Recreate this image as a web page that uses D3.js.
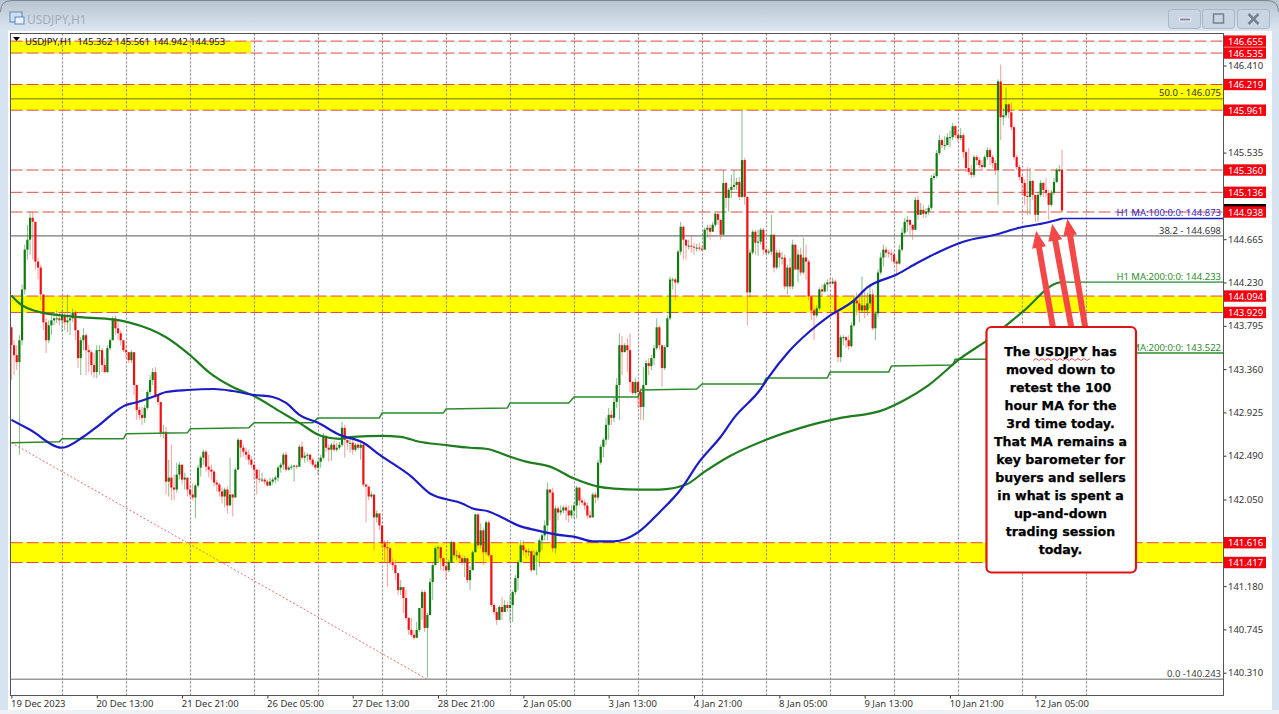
<!DOCTYPE html>
<html><head><meta charset="utf-8">
<script src="https://cdnjs.cloudflare.com/ajax/libs/d3/7.8.5/d3.min.js"></script>
<style>html,body{margin:0;padding:0;background:#fff;overflow:hidden}svg{display:block}text{font-family:"Noto Sans",sans-serif}</style>
</head><body><svg id="c" width="1279" height="714"></svg>
<script>
const opens=[143.78,143.60,143.50,143.43,143.65,144.16,144.56,144.66,144.88,144.84,144.44,144.38,144.11,143.83,143.65,143.80,143.85,143.87,143.87,143.85,143.90,143.83,143.85,143.87,143.93,143.75,143.47,143.65,143.70,143.55,143.53,143.40,143.33,143.55,143.55,143.40,143.33,143.57,143.65,143.87,143.77,143.72,143.65,143.55,143.53,143.45,143.53,143.20,142.95,142.90,142.87,142.97,143.13,143.25,143.33,143.10,143.03,142.72,142.73,142.23,142.27,142.17,142.15,142.30,142.40,142.25,142.27,142.15,142.10,142.07,142.19,142.37,142.47,142.53,142.38,142.35,142.33,142.22,142.20,142.13,142.08,142.15,141.99,142.10,142.07,142.35,142.65,142.57,142.53,142.50,142.45,142.40,142.35,142.26,142.25,142.25,142.23,142.19,142.23,142.25,142.27,142.37,142.40,142.50,142.35,142.37,142.38,142.39,142.38,142.58,142.47,142.49,142.50,142.45,142.40,142.37,142.43,142.47,142.69,142.57,142.55,142.60,142.55,142.57,142.60,142.77,142.65,142.62,142.62,142.55,142.60,142.57,142.60,142.20,142.18,142.08,142.10,141.87,141.91,141.79,141.61,141.57,141.56,141.42,141.39,141.31,141.14,141.17,141.06,140.86,140.74,140.69,140.66,140.74,140.96,141.12,140.76,140.89,141.22,141.39,141.56,141.57,141.46,141.38,141.34,141.42,141.62,141.49,141.49,141.46,141.42,141.46,141.24,141.34,141.52,141.90,141.59,141.74,141.52,141.82,141.49,140.99,140.92,140.84,140.97,140.92,140.99,140.96,140.99,141.12,141.26,141.42,141.59,141.54,141.52,141.53,141.34,141.49,141.52,141.64,141.69,141.79,142.15,142.12,141.56,141.96,141.92,141.94,141.97,141.94,141.89,141.94,141.99,142.17,142.04,142.02,141.99,141.89,141.87,142.10,142.07,142.42,142.58,142.65,142.80,142.90,142.87,143.03,143.20,143.60,143.53,143.60,143.55,143.23,143.12,143.23,143.13,142.98,143.20,143.42,143.39,143.47,143.57,143.78,143.60,143.37,143.58,143.87,144.26,144.26,144.23,144.54,144.79,144.66,144.60,144.60,144.59,144.58,144.58,144.57,144.56,144.76,144.78,144.74,144.81,144.92,144.86,144.71,145.23,145.08,145.16,145.19,145.21,145.24,145.09,145.46,145.09,144.13,144.53,144.74,144.63,144.64,144.76,144.56,144.53,144.54,144.71,144.38,144.53,144.48,144.48,144.19,144.38,144.19,144.61,144.36,144.51,144.33,144.48,144.44,144.09,143.95,143.90,143.97,144.16,144.14,144.21,144.23,144.22,144.24,143.93,143.48,143.68,143.68,143.65,143.59,143.80,144.05,144.02,143.95,144.00,143.95,144.02,144.11,143.77,143.92,144.33,144.48,144.56,144.53,144.52,144.51,144.44,144.42,144.56,144.73,144.84,144.86,144.81,144.76,145.06,144.91,144.96,144.92,144.94,144.98,145.28,145.30,145.53,145.66,145.61,145.61,145.69,145.69,145.80,145.71,145.68,145.71,145.54,145.38,145.34,145.31,145.49,145.46,145.41,145.39,145.49,145.56,145.49,145.43,145.36,146.25,145.89,145.91,146.02,145.94,145.79,145.49,145.39,145.29,145.23,145.10,145.09,145.25,145.11,144.91,145.11,145.23,145.16,145.13,145.01,145.13,145.24,145.36,145.362];
const highs=[143.78,143.65,143.60,143.70,144.21,144.61,144.81,144.94,144.94,144.80,144.48,144.41,144.11,143.87,143.85,143.90,143.93,143.95,143.93,143.95,143.93,144.11,143.93,143.97,143.95,143.75,143.68,143.77,143.72,143.60,143.55,143.52,143.60,143.60,143.57,143.47,143.60,143.67,143.89,143.90,143.85,143.75,143.63,143.60,143.53,143.55,143.45,143.20,142.98,142.98,143.00,143.15,143.30,143.37,143.38,143.10,143.02,142.80,142.78,142.45,142.60,142.30,142.42,142.43,142.37,142.32,142.25,142.20,142.21,142.21,142.40,142.49,142.55,142.55,142.50,142.40,142.35,142.25,142.22,142.17,142.17,142.18,142.47,142.11,142.37,142.67,142.62,142.60,142.57,142.55,142.49,142.40,142.35,142.35,142.32,142.27,142.25,142.27,142.27,142.29,142.39,142.42,142.52,142.53,142.39,142.40,142.40,142.40,142.60,142.63,142.53,142.52,142.51,142.47,142.43,142.45,142.50,142.72,142.69,142.60,142.62,142.64,142.62,142.63,142.83,142.80,142.65,142.67,142.65,142.62,142.62,142.63,142.62,142.20,142.12,142.13,142.07,141.94,141.89,141.71,141.64,141.64,141.57,141.46,141.44,141.31,141.24,141.14,141.14,140.87,140.86,140.74,140.82,140.96,141.14,141.14,140.91,141.26,141.41,141.58,141.59,141.57,141.46,141.40,141.44,141.64,141.63,141.54,141.52,141.49,141.48,141.46,141.38,141.54,141.91,141.91,141.81,141.77,141.84,141.84,141.49,141.01,140.96,140.99,141.07,141.04,141.02,141.09,141.14,141.29,141.44,141.64,141.64,141.56,141.56,141.54,141.54,141.54,141.66,141.71,141.84,142.22,142.15,142.17,141.99,141.98,141.99,141.99,142.00,141.99,141.99,142.02,142.19,142.17,142.07,142.05,142.02,141.94,142.12,142.13,142.45,142.60,142.67,142.87,142.97,142.95,143.07,143.27,143.72,143.69,143.62,143.67,143.72,143.24,143.27,143.25,143.17,143.38,143.45,143.47,143.50,143.60,143.87,143.80,143.55,143.60,143.90,144.29,144.28,144.28,144.56,144.84,144.80,144.66,144.66,144.70,144.63,144.62,144.63,144.61,144.78,144.81,144.81,144.84,144.94,144.92,144.86,145.36,145.24,145.18,145.31,145.36,145.28,145.29,145.96,145.48,145.03,144.56,144.76,144.76,144.76,144.78,144.78,144.58,144.56,144.91,144.71,144.56,144.56,144.54,144.51,144.41,144.48,144.66,144.61,144.56,144.58,144.68,144.61,144.46,144.10,144.00,144.00,144.18,144.21,144.23,144.26,144.28,144.28,144.26,143.90,143.70,143.70,143.69,143.70,143.83,144.09,144.13,144.11,144.29,144.16,144.13,144.19,144.16,143.94,144.36,144.53,144.61,144.59,144.56,144.56,144.54,144.46,144.61,144.78,144.88,144.90,144.84,144.81,145.09,145.10,145.03,145.01,144.98,145.01,145.31,145.33,145.56,145.71,145.68,145.70,145.73,145.76,145.83,145.81,145.76,145.78,145.73,145.56,145.58,145.41,145.51,145.51,145.49,145.46,145.51,145.59,145.58,145.51,145.46,146.27,146.42,145.98,146.19,146.03,146.04,145.81,145.51,145.41,145.31,145.26,145.39,145.38,145.26,145.11,145.14,145.26,145.24,145.28,145.16,145.16,145.28,145.38,145.41,145.561];
const lows=[143.25,143.30,143.35,142.50,143.60,144.11,144.46,144.51,144.46,144.36,144.26,144.05,143.75,143.52,143.62,143.70,143.80,143.82,143.80,143.73,143.75,143.73,143.70,143.83,143.65,143.37,143.30,143.55,143.30,143.33,143.30,143.27,143.27,143.30,143.33,143.32,143.32,143.55,143.65,143.70,143.65,143.60,143.53,143.47,143.42,143.42,143.10,142.85,142.85,142.80,142.82,142.95,143.10,143.20,143.07,143.00,142.68,142.67,142.10,142.08,142.04,142.04,142.12,142.25,142.20,142.15,142.08,142.07,142.04,141.86,142.17,142.28,142.40,142.33,142.27,142.25,142.18,142.13,142.08,142.01,141.97,141.91,142.01,141.88,142.07,142.35,142.47,142.48,142.45,142.40,142.37,142.25,142.10,142.22,142.22,142.20,142.18,142.19,142.20,142.21,142.23,142.32,142.35,142.33,142.34,142.35,142.23,142.36,142.38,142.45,142.42,142.43,142.41,142.38,142.35,142.30,142.37,142.45,142.53,142.43,142.44,142.53,142.53,142.55,142.58,142.47,142.55,142.52,142.50,142.53,142.55,142.45,142.18,141.82,142.04,142.06,141.54,141.82,141.74,141.56,141.42,141.17,141.39,141.34,141.24,141.09,141.09,140.91,140.84,140.69,140.67,140.64,140.67,140.72,140.84,140.72,140.26,140.89,141.04,141.39,141.41,141.34,141.33,141.24,141.32,141.42,141.46,141.44,141.42,141.39,141.27,141.21,141.14,141.34,141.52,141.56,141.56,141.39,141.49,141.47,140.97,140.89,140.79,140.84,140.84,140.92,140.92,140.82,140.82,141.09,141.14,141.42,141.49,141.46,141.48,141.32,141.42,141.29,141.37,141.54,141.64,141.64,141.84,141.52,141.51,141.84,141.89,141.91,141.84,141.82,141.86,141.86,141.86,141.99,141.99,141.94,141.86,141.86,141.87,142.01,142.04,142.40,142.47,142.60,142.65,142.80,142.83,142.97,142.85,143.30,143.53,143.33,143.13,143.10,143.10,142.97,142.85,142.85,143.20,143.30,143.35,143.40,143.55,143.55,143.18,143.35,143.58,143.85,144.16,144.05,144.21,144.51,144.46,144.46,144.56,144.53,144.51,144.54,144.55,144.54,144.56,144.68,144.66,144.74,144.79,144.81,144.66,144.71,144.98,144.94,145.08,145.16,145.16,145.06,145.08,145.01,143.80,144.08,144.51,144.51,144.50,144.61,144.51,144.51,144.51,144.51,144.33,144.36,144.38,144.41,144.16,144.11,144.16,144.16,144.41,144.23,144.30,144.31,144.26,144.05,143.85,143.65,143.88,143.95,144.09,144.13,144.14,144.20,144.21,143.90,143.43,143.43,143.60,143.57,143.55,143.58,143.78,143.90,143.83,143.93,143.87,143.90,143.97,143.75,143.65,143.88,144.31,144.39,144.48,144.48,144.44,144.41,144.31,144.41,144.54,144.71,144.74,144.71,144.66,144.76,144.86,144.91,144.88,144.88,144.91,144.96,145.26,145.28,145.51,145.58,145.56,145.61,145.59,145.66,145.68,145.64,145.66,145.48,145.34,145.31,145.28,145.29,145.41,145.38,145.36,145.38,145.46,145.41,145.38,145.31,145.01,145.66,145.81,145.88,145.88,145.76,145.46,145.36,145.26,145.11,145.01,144.91,144.91,145.06,144.84,144.84,145.09,145.09,145.09,144.86,144.99,145.11,145.23,145.34,144.942];
const closes=[143.60,143.50,143.43,143.65,144.16,144.56,144.66,144.88,144.84,144.44,144.38,144.11,143.83,143.65,143.80,143.85,143.87,143.87,143.85,143.90,143.83,143.85,143.87,143.93,143.75,143.47,143.65,143.70,143.55,143.53,143.40,143.33,143.55,143.55,143.40,143.33,143.57,143.65,143.87,143.77,143.72,143.65,143.55,143.53,143.45,143.53,143.20,142.95,142.90,142.87,142.97,143.13,143.25,143.33,143.10,143.03,142.72,142.73,142.23,142.27,142.17,142.15,142.30,142.40,142.25,142.27,142.15,142.10,142.07,142.19,142.37,142.47,142.53,142.38,142.35,142.33,142.22,142.20,142.13,142.08,142.15,141.99,142.10,142.07,142.35,142.65,142.57,142.53,142.50,142.45,142.40,142.35,142.26,142.25,142.25,142.23,142.19,142.23,142.25,142.27,142.37,142.40,142.50,142.35,142.37,142.38,142.39,142.38,142.58,142.47,142.49,142.50,142.45,142.40,142.37,142.43,142.47,142.69,142.57,142.55,142.60,142.55,142.57,142.60,142.77,142.65,142.62,142.62,142.55,142.60,142.57,142.60,142.20,142.18,142.08,142.10,141.87,141.91,141.79,141.61,141.57,141.56,141.42,141.39,141.31,141.14,141.17,141.06,140.86,140.74,140.69,140.66,140.74,140.96,141.12,140.76,140.89,141.22,141.39,141.56,141.57,141.46,141.38,141.34,141.42,141.62,141.49,141.49,141.46,141.42,141.46,141.24,141.34,141.52,141.90,141.59,141.74,141.52,141.82,141.49,140.99,140.92,140.84,140.97,140.92,140.99,140.96,140.99,141.12,141.26,141.42,141.59,141.54,141.52,141.53,141.34,141.49,141.52,141.64,141.69,141.79,142.15,142.12,141.56,141.96,141.92,141.94,141.97,141.94,141.89,141.94,141.99,142.17,142.04,142.02,141.99,141.89,141.87,142.10,142.07,142.42,142.58,142.65,142.80,142.90,142.87,143.03,143.20,143.60,143.53,143.60,143.55,143.23,143.12,143.23,143.13,142.98,143.20,143.42,143.39,143.47,143.57,143.78,143.60,143.37,143.58,143.87,144.26,144.26,144.23,144.54,144.79,144.66,144.60,144.60,144.59,144.58,144.58,144.57,144.56,144.76,144.78,144.74,144.81,144.92,144.86,144.71,145.23,145.08,145.16,145.19,145.21,145.24,145.09,145.46,145.09,144.13,144.53,144.74,144.63,144.64,144.76,144.56,144.53,144.54,144.71,144.38,144.53,144.48,144.48,144.19,144.38,144.19,144.61,144.36,144.51,144.33,144.48,144.44,144.09,143.95,143.90,143.97,144.16,144.14,144.21,144.23,144.22,144.24,143.93,143.48,143.68,143.68,143.65,143.59,143.80,144.05,144.02,143.95,144.00,143.95,144.02,144.11,143.77,143.92,144.33,144.48,144.56,144.53,144.52,144.51,144.44,144.42,144.56,144.73,144.84,144.86,144.81,144.76,145.06,144.91,144.96,144.92,144.94,144.98,145.28,145.30,145.53,145.66,145.61,145.61,145.69,145.69,145.80,145.71,145.68,145.71,145.54,145.38,145.34,145.31,145.49,145.46,145.41,145.39,145.49,145.56,145.49,145.43,145.36,146.25,145.89,145.91,146.02,145.94,145.79,145.49,145.39,145.29,145.23,145.10,145.09,145.25,145.11,144.91,145.11,145.23,145.16,145.13,145.01,145.13,145.24,145.36,145.362,144.953];

const ma100Bars=[0,7,19,27,33,43,46,55,58,66,76,83,91,98,103,108,115,123,132,138,150,157,169,173,179,184,190,197,204,212,218,226,235,243,251,258,266,271,281,284,291,299,306,316,321,332,340,348,357,369,378,388,394];
const ma100=[142.85,142.75,142.57,142.68,142.80,143.00,143.02,143.10,143.13,143.15,143.16,143.14,143.10,143.08,143.02,142.90,142.82,142.70,142.62,142.50,142.28,142.11,142.01,141.96,141.93,141.87,141.79,141.74,141.70,141.67,141.63,141.63,141.72,141.92,142.15,142.43,142.68,142.87,143.16,143.28,143.52,143.73,143.88,144.05,144.18,144.31,144.43,144.54,144.64,144.71,144.78,144.83,144.873];
const ma200Bars=[0,3,11,27,38,44,52,58,67,74,83,91,101,108,116,123,128,139,146,153,162,172,178,187,193,202,211,220,226,236,243,253,260,269,283,296,311,326,335,344,356,366,379,393,394];
const ma200=[144.10,144.02,143.93,143.88,143.86,143.83,143.76,143.68,143.50,143.33,143.18,143.09,142.93,142.82,142.69,142.66,142.68,142.69,142.68,142.63,142.60,142.57,142.56,142.48,142.43,142.38,142.26,142.18,142.16,142.15,142.15,142.20,142.33,142.48,142.65,142.77,142.87,142.94,143.05,143.20,143.47,143.65,143.93,144.23,144.233];
const h4Bars=[0,18,19,42,43,66,67,89,91,113,115,138,139,162,163,186,187,209,211,235,236,257,259,282,283,306,307,329,330,353,354,376,377,454.5];
const h4ma=[142.62,142.63,142.66,142.66,142.71,142.72,142.76,142.77,142.82,142.82,142.87,142.87,142.92,142.92,142.96,142.97,143.02,143.02,143.08,143.08,143.15,143.16,143.21,143.21,143.27,143.27,143.33,143.33,143.39,143.40,143.46,143.46,143.522,143.522];

const priceTicks=[146.410,145.535,144.665,144.230,143.795,143.360,142.925,142.490,142.050,141.180,140.745,140.310];
const timeTickBars=[0,32,64,96,128,160,192,224,256,288,320,352,384];
const timeLabels=["19 Dec 2023","20 Dec 13:00","21 Dec 21:00","26 Dec 05:00","27 Dec 13:00","28 Dec 21:00","2 Jan 05:00","3 Jan 13:00","4 Jan 21:00","8 Jan 05:00","9 Jan 13:00","10 Jan 21:00","12 Jan 05:00"];
const gridBars=[19,43,67,91,115,139,163,187,211,235,259,283,307,331,355,379,403];
const levels=[146.655,146.535,146.219,145.961,145.360,145.136,144.938,144.094,143.929,141.616,141.417];
const bandTops=[146.219,144.094,141.616];
const bandBottoms=[145.961,143.929,141.417];
const noteLines=["The USDJPY has","moved down to","retest the 100","hour MA for the","3rd time today.","That MA remains a","key barometer for","buyers and sellers","in what is spent a","up-and-down","trading session","today."];
const arrowTipBars=[384.3,390.3,396];
const arrowTipPrices=[144.75,144.82,144.87];
const arrowBaseBars=[390.6,397.5,402.7];
const arrowBasePrice=143.78;

const W=1279,H=714,L=10.5,R=1223.5,T=33.5,B=695.5,FS=9.5;
const svg=d3.select("#c");
const x=d3.scaleLinear().domain([0,394]).range([11.4,1062]);
const y=d3.scaleLinear().domain([146.41,140.31]).range([65.5,672.7]);
const lastBar=x.invert(R);

// window chrome
const defs=svg.append("defs");
const g0=defs.append("linearGradient").attr("id","tb").attr("x1",0).attr("x2",0).attr("y1",0).attr("y2",1);
g0.append("stop").attr("offset",0).attr("stop-color","#b7c3d0");
g0.append("stop").attr("offset",1).attr("stop-color","#dbe6f2");
svg.append("rect").attr("width",W).attr("height",H).attr("fill","#d7e3f0");
svg.append("rect").attr("width",W).attr("height",31).attr("fill","url(#tb)");
svg.append("path").attr("d","M0.5,12 Q0.5,0.5 12,0.5 H1267 Q1278.5,0.5 1278.5,12").attr("fill","none").attr("stroke","#7d8791");
svg.append("rect").attr("x",8).attr("y",31).attr("width",1264).attr("height",679).attr("fill","#fff");
svg.append("rect").attr("x",0).attr("y",710).attr("width",W).attr("height",4).attr("fill","#eef1f5");
const ic=svg.append("g");
ic.append("rect").attr("x",10).attr("y",12).attr("width",12).attr("height",10).attr("fill","#cfe0f2").attr("stroke","#5c87b8");
ic.append("rect").attr("x",15).attr("y",17).attr("width",9).attr("height",7).attr("fill","#e8f0fa").attr("stroke","#5c87b8");
svg.append("text").attr("x",27).attr("y",24).attr("font-size",12).attr("fill","#a3adb8").text("USDJPY,H1");
[[1169,"min"],[1203,"max"],[1238,"close"]].forEach(([bx,k])=>{
  svg.append("rect").attr("x",bx-.5).attr("y",9.5).attr("width",32).attr("height",19).attr("rx",3).attr("fill","#c9d5e2").attr("stroke","#a9b6c4");
  const cx=bx+15.5;
  if(k=="min")svg.append("rect").attr("x",cx-5).attr("y",18).attr("width",11).attr("height",3).attr("fill","#7f8b97").attr("stroke","#eef");
  if(k=="max")svg.append("rect").attr("x",cx-5).attr("y",14).attr("width",10).attr("height",9).attr("fill","none").attr("stroke","#76828e").attr("stroke-width",1.5);
  if(k=="close")svg.append("path").attr("d",`M${cx-5},14 L${cx+5},24 M${cx+5},14 L${cx-5},24`).attr("stroke","#76828e").attr("stroke-width",2.5);
});

// bands
const gBands=svg.append("g");
bandTops.forEach((t,i)=>gBands.append("rect").attr("x",L).attr("width",R-L).attr("y",y(t)).attr("height",y(bandBottoms[i])-y(t)).attr("fill","#ffff00"));
gBands.append("rect").attr("x",L).attr("width",251-L).attr("y",y(146.655)).attr("height",y(146.535)-y(146.655)).attr("fill","#ffff00");

// grid
svg.append("g").selectAll("line").data(gridBars).join("line")
  .attr("x1",d=>Math.round(x(d))+.5).attr("x2",d=>Math.round(x(d))+.5).attr("y1",T).attr("y2",B)
  .attr("stroke","#8c8c8c").attr("stroke-width",1.2).attr("stroke-dasharray","2 2");

// red levels
svg.append("g").selectAll("line").data(levels).join("line")
  .attr("x1",L).attr("x2",R).attr("y1",d=>y(d)).attr("y2",d=>y(d))
  .attr("stroke","#e04a44").attr("stroke-width",1).attr("stroke-dasharray","12 4");

// fibo lines
const fibLine=(p,c,w)=>svg.append("line").attr("x1",L).attr("x2",R).attr("y1",y(p)).attr("y2",y(p)).attr("stroke",c).attr("stroke-width",w);
fibLine(146.075,"#6b6b2a",1);fibLine(144.698,"#555",1);fibLine(140.243,"#999",1.5);
svg.append("line").attr("x1",x(0)).attr("y1",y(142.62)).attr("x2",x(156)).attr("y2",y(140.243))
  .attr("stroke","#e8716c").attr("stroke-width",1).attr("stroke-dasharray","2 2");

// candles
const bars=closes.map((c,i)=>({i,o:opens[i],h:highs[i],l:lows[i],c}));
const up=d=>d.c>=d.o;
const gC=svg.append("g");
gC.selectAll("line").data(bars).join("line")
  .attr("x1",d=>x(d.i)).attr("x2",d=>x(d.i)).attr("y1",d=>y(d.h)).attr("y2",d=>y(d.l))
  .attr("stroke",d=>up(d)?"#3a8f3a":"#f25c5c").attr("stroke-width",1).attr("stroke-opacity",.6);
gC.selectAll("rect").data(bars).join("rect")
  .attr("x",d=>x(d.i)-1.1).attr("width",2.2)
  .attr("y",d=>y(Math.max(d.o,d.c))).attr("height",d=>Math.max(1,Math.abs(y(d.o)-y(d.c))))
  .attr("fill",d=>up(d)?"#0f7a0f":"#f01212");

// MAs
const path=(bs,vs,c,w,curve)=>svg.append("path").datum(bs.map((b,i)=>[b,vs[i]]))
  .attr("d",d3.line().curve(curve||d3.curveLinear).x(d=>x(d[0])).y(d=>y(d[1]))).attr("fill","none").attr("stroke",c).attr("stroke-width",w).attr("stroke-linejoin","round");
path(h4Bars,h4ma,"#2b8a2b",1.5);
path(ma200Bars,ma200,"#1f7d1f",2.2,d3.curveMonotoneX);
path([394,lastBar],[144.233,144.233],"#2b8a2b",1.3);
path(ma100Bars,ma100,"#1c1cc4",2.2,d3.curveMonotoneX);
path([394,lastBar],[144.873,144.873],"#1c1cc4",1.3);

// axes
const yAxis=d3.axisRight(y).tickValues(priceTicks).tickFormat(d3.format(".3f")).tickSize(3).tickPadding(1.5);
const gy=svg.append("g").attr("transform",`translate(${R},0)`).call(yAxis);
gy.select(".domain").remove();
gy.selectAll("text").attr("font-size",FS).attr("fill","#333").style("font-family",'"Noto Sans",sans-serif');
gy.selectAll("line").attr("stroke","#333");
const xAxis=d3.axisBottom(x).tickValues(timeTickBars).tickFormat((d,i)=>timeLabels[i]).tickSize(3).tickPadding(2);
const gx=svg.append("g").attr("transform",`translate(0,${B})`).call(xAxis);
gx.select(".domain").remove();
gx.selectAll("text").attr("font-size",FS).attr("fill","#333").attr("text-anchor","start").attr("dx",-.8).style("font-family",'"Noto Sans",sans-serif');
gx.selectAll("line").attr("stroke","#333");
svg.append("rect").attr("x",L).attr("y",T).attr("width",R-L).attr("height",B-T).attr("fill","none").attr("stroke","#555");

// price flags
svg.append("rect").attr("x",1224).attr("y",204).attr("width",42).attr("height",3).attr("fill","#000");
const flags=svg.append("g").selectAll("g").data(levels).join("g").attr("transform",d=>`translate(1224,${y(d)})`);
flags.append("rect").attr("y",-5.7).attr("width",42).attr("height",11.4).attr("fill","#f5000f");
flags.append("text").attr("x",4).attr("y",3.5).attr("font-size",FS).attr("fill","#fff").text(d=>d3.format(".3f")(d));

// chart texts
const lbl=(tx,ty,s,c,anchor)=>svg.append("text").attr("x",tx).attr("y",ty).attr("font-size",FS).attr("fill",c).attr("text-anchor",anchor||"end").text(s);
lbl(1221,96,"50.0 - 146.075","#333");
lbl(1221,234,"38.2 - 144.698","#333");
lbl(1221,677,"0.0 -140.243","#444");
lbl(1221,216,"H1 MA:100:0:0: 144.873","#2a2ac8");
lbl(1221,280,"H1 MA:200:0:0: 144.233","#2e8b2e");
lbl(1221,351,"H4 MA:200:0:0: 143.522","#2e8b2e");
svg.append("path").attr("d","M13,37 h7 l-3.5,4 z").attr("fill","#000");
lbl(25,45,"USDJPY,H1  145.362 145.561 144.942 144.953","#111","start").style("white-space","pre");

// arrows
const arrowColor="#f44848";
arrowTipBars.forEach((b,i)=>{
  const tx=x(b),ty=y(arrowTipPrices[i]),bx=x(arrowBaseBars[i]),by=y(arrowBasePrice);
  const a=Math.atan2(by-ty,bx-tx),ux=Math.cos(a),uy=Math.sin(a),nx=-uy,ny=ux,hl=17,hw=7,sw=3;
  const p=[[tx,ty],[tx+ux*hl+nx*hw,ty+uy*hl+ny*hw],[tx+ux*hl+nx*sw,ty+uy*hl+ny*sw],[bx+nx*sw,by+ny*sw],[bx-nx*sw,by-ny*sw],[tx+ux*hl-nx*sw,ty+uy*hl-ny*sw],[tx+ux*hl-nx*hw,ty+uy*hl-ny*hw]];
  svg.append("polygon").attr("points",p.map(q=>q.join(",")).join(" ")).attr("fill",arrowColor);
});

// note box
svg.append("rect").attr("x",986.5).attr("y",327).attr("width",149.5).attr("height",245.5).attr("rx",5)
  .attr("fill","#fff").attr("stroke","#dc1616").attr("stroke-width",2.2);
svg.append("g").selectAll("text").data(noteLines).join("text")
  .attr("x",1060.5).attr("y",(d,i)=>356+i*18).attr("text-anchor","middle")
  .style("font-family",'"DejaVu Sans",sans-serif').attr("font-weight","bold").attr("font-size",12.6).attr("fill","#000").attr("stroke","#000").attr("stroke-width",.25).text(d=>d);
const wave=d3.range(0,20).map(i=>[1033+i*3,i%2?358.5:360.5]);
svg.append("path").attr("d",d3.line()(wave)).attr("fill","none").attr("stroke","#d33").attr("stroke-width",.8);
</script></body></html>
